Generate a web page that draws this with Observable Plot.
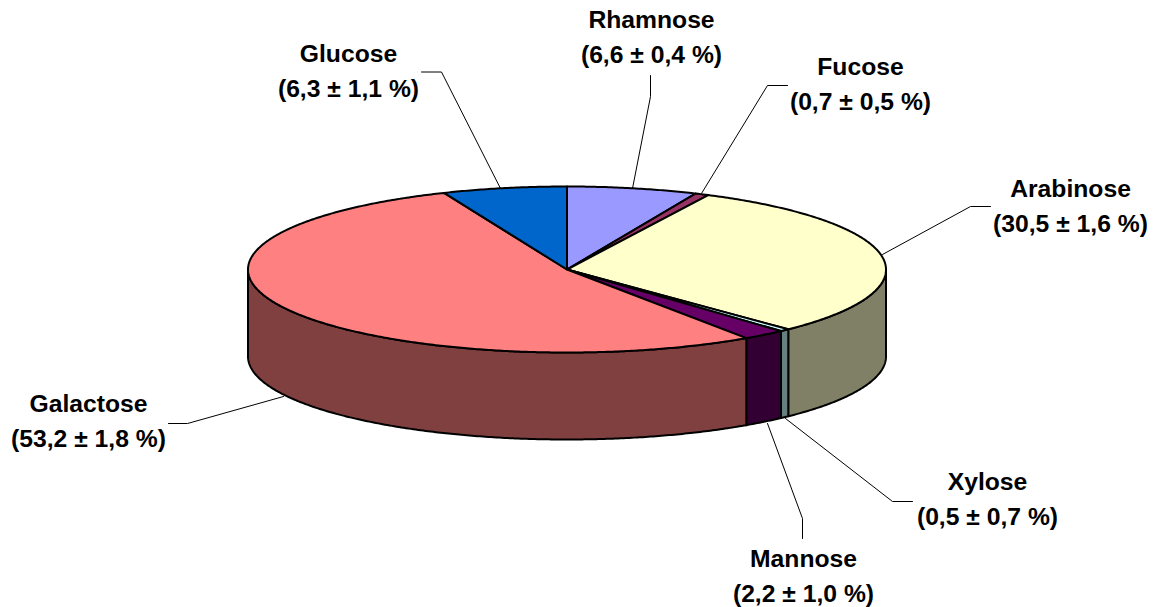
<!DOCTYPE html>
<html>
<head>
<meta charset="utf-8">
<script src="https://cdn.jsdelivr.net/npm/d3@7"></script>
<script src="https://cdn.jsdelivr.net/npm/@observablehq/plot@0.6"></script>
<style>html,body{margin:0;padding:0;background:#fff}svg{display:block}</style>
</head>
<body>
<div id="chart"></div>
<script>
const names = ["Rhamnose", "Fucose", "Arabinose", "Xylose", "Mannose", "Galactose", "Glucose"];
const values = [6.6, 0.7, 30.5, 0.5, 2.2, 53.2, 6.3];
const errors = [0.4, 0.5, 1.6, 0.7, 1.0, 1.8, 1.1];
const topColors = ["#9999FF", "#993366", "#FFFFCC", "#CCFFFF", "#660066", "#FF8080", "#0066CC"];
const sideColors = ["#4D4D80", "#4D1A33", "#808066", "#668080", "#330033", "#804040", "#003366"];

// Pie layout on screen
const W = 1156, H = 607;
const cx = 566.5, cy = 269, rx = 319, ry = 83, depth = 87;

// Label placement: centre x, baseline of the second line
const labelX = [651, 860, 1070, 987, 803, 88, 348];
const labelY = [62, 109, 231, 524, 601, 446, 96];
// Leader polylines
const leaderX = [[650,650,632],[787,767,701],[990,970,882],[912,892,785],[802,802,767],[168,187,283],[421,441,500]];
const leaderY = [[75,96,188],[85,85,193],[206,206,254],[501,501,418],[538,518,423],[423,423,396],[71.5,71.5,188]];

const fmt = v => v.toFixed(1).replace(".", ",");
const px = a => cx + rx * Math.sin(a);
const py = a => cy - ry * Math.cos(a);

const TAU = 2 * Math.PI, STEP = TAU / 720;
const arcs = d3.pie().sort(null).value(d => d)(values);

function arcAngles(a0, a1) {
  const out = [];
  for (let a = a0; a < a1; a += STEP) out.push(a);
  out.push(a1);
  return out;
}

const topPts = [], sidePts = [];
arcs.forEach((arc, i) => {
  arcAngles(arc.startAngle, arc.endAngle).forEach(a =>
    topPts.push({id: names[i], x: px(a), y: py(a), fill: topColors[i]}));
  topPts.push({id: names[i], x: cx, y: cy, fill: topColors[i]});

  const s = Math.max(arc.startAngle, TAU / 4), e = Math.min(arc.endAngle, 3 * TAU / 4);
  if (s < e) {
    const as = arcAngles(s, e);
    as.forEach(a => sidePts.push({id: names[i], x: px(a), y: py(a), fill: sideColors[i]}));
    as.slice().reverse().forEach(a => sidePts.push({id: names[i], x: px(a), y: py(a) + depth, fill: sideColors[i]}));
  }
});

const leaders = names.flatMap((n, i) => leaderX[i].map((x, j) => ({id: n, x, y: leaderY[i][j]})));
const labels = names.map((n, i) => ({
  x: labelX[i], y: labelY[i],
  text: `${n}\n(${fmt(values[i])} ± ${fmt(errors[i])} %)`
}));

const wedge = (data) => Plot.line(data, {
  x: "x", y: "y", z: "id", fill: "fill", stroke: "#000", strokeWidth: 2,
  curve: "linear-closed", strokeLinejoin: "round"
});

const chart = Plot.plot({
  width: W, height: H,
  marginTop: 0, marginRight: 0, marginBottom: 0, marginLeft: 0,
  x: {domain: [0, W], range: [0, W], axis: null},
  y: {domain: [0, H], range: [0, H], axis: null},
  style: {background: "#fff"},
  marks: [
    wedge(sidePts),
    wedge(topPts),
    Plot.line(leaders, {x: "x", y: "y", z: "id", stroke: "#000", strokeWidth: 1}),
    Plot.text(labels, {
      x: "x", y: "y", text: "text", textAnchor: "middle", lineAnchor: "bottom", lineHeight: 1.4,
      fontFamily: "Liberation Sans", fontWeight: "bold", fontSize: 24.7, fill: "#000"
    })
  ]
});
document.getElementById("chart").append(chart);
</script>
</body>
</html>
